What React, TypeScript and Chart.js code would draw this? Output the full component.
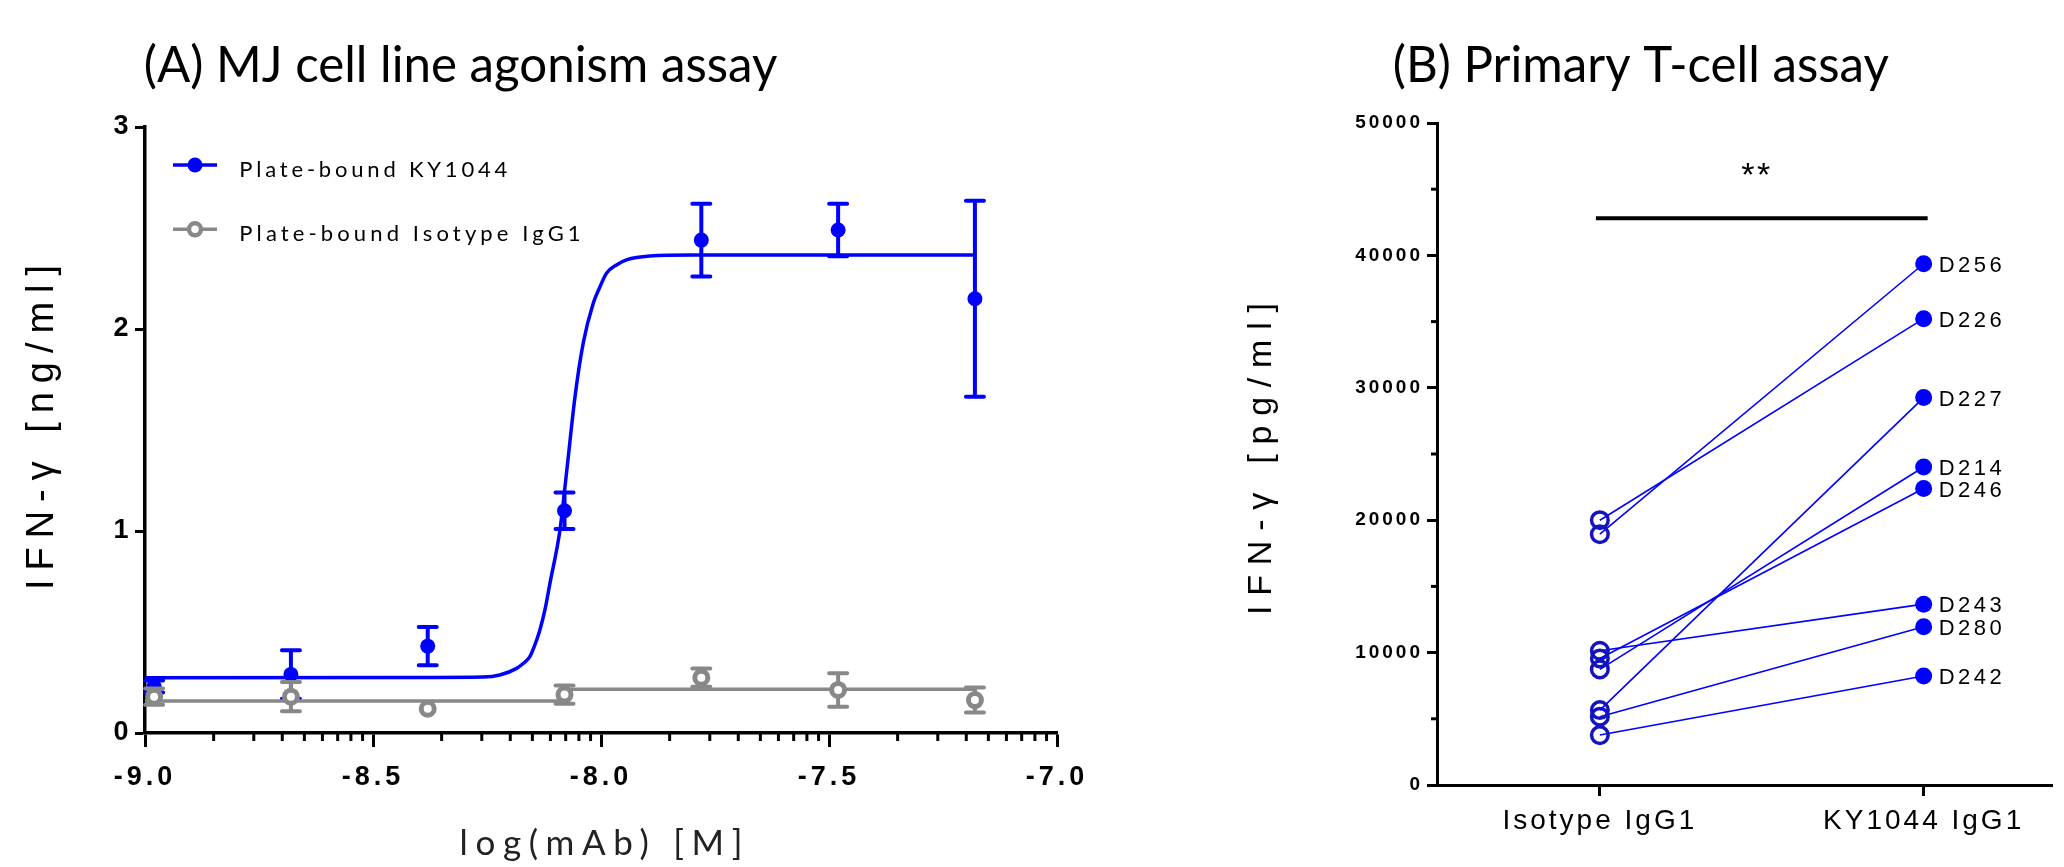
import React, { useEffect, useRef } from 'react';
import { Chart, registerables } from 'chart.js';
Chart.register(...registerables);

// ---------------- Panel A data ----------------
const LOG_CONC = [-8.98, -8.68, -8.38, -8.08, -7.78, -7.48, -7.18];
const KY1044_MEAN = [0.23, 0.29, 0.43, 1.1, 2.44, 2.49, 2.15];
const KY1044_SD = [0.03, 0.12, 0.095, 0.09, 0.18, 0.13, 0.485];
const ISO_MEAN = [0.18, 0.18, 0.12, 0.19, 0.274, 0.213, 0.163];
const ISO_SD = [0.04, 0.072, 0, 0.045, 0.045, 0.083, 0.062];
const KY1044_FIT_X = [-9.0, -8.4, -8.258, -8.222, -8.185, -8.17, -8.156, -8.145, -8.134, -8.123, -8.112, -8.09, -8.075, -8.057, -8.039, -8.017, -8.002, -7.988, -7.966, -7.944, -7.893, -7.8, -7.18];
const KY1044_FIT_Y = [0.274, 0.275, 0.277, 0.287, 0.32, 0.345, 0.378, 0.436, 0.51, 0.609, 0.741, 1.005, 1.3, 1.665, 1.93, 2.127, 2.21, 2.276, 2.317, 2.342, 2.361, 2.366, 2.366];
const ISO_FIT_X = [-9.0, -8.083, -8.083, -7.18];
const ISO_FIT_Y = [0.158, 0.158, 0.216, 0.216];
const X_TICKS_A = [-9.0, -8.5, -8.0, -7.5, -7.0];
const Y_TICKS_A = [0, 1, 2, 3];
const LEGEND_A = ['Plate-bound KY1044', 'Plate-bound Isotype IgG1'];

// ---------------- Panel B data ----------------
const GROUPS_B = ['Isotype IgG1', 'KY1044 IgG1'];
const DONORS = ['D256', 'D226', 'D227', 'D214', 'D246', 'D243', 'D280', 'D242'];
const ISOTYPE_VALUES = [18940, 20000, 5660, 8730, 9560, 10140, 5160, 3770];
const KY1044_VALUES = [39370, 35220, 29260, 24020, 22390, 13660, 11950, 8230];
const Y_TICKS_B = [0, 10000, 20000, 30000, 40000, 50000];
const Y_MINOR_B = [5000, 15000, 25000, 35000, 45000];
const SIG_LABEL = '**';
const SIG_LEVEL = 42800;

const BLUE = '#0000ff';
const DARK_BLUE = '#1414bf';
const GRAY = '#888888';
const SANS = '"Liberation Sans", Arial, sans-serif';
const CAL = 'Lato, "Noto Sans", sans-serif';

function drawFitted(ctx: any, text: string, x: number, y: number, font: string, width: number, o: any = {}) {
  const align = o.align || 'left';
  ctx.save();
  ctx.font = font;
  ctx.letterSpacing = '0px';
  const w0 = ctx.measureText(text).width;
  const n = Array.from(text).length;
  let spacing = n > 1 ? (width - w0) / (n - 1) : 0;
  let sx = 1;
  if (spacing < 0) {
    sx = width / w0;
    spacing = 0;
  }
  ctx.translate(x, y);
  if (o.rotate) ctx.rotate(-Math.PI / 2);
  const startX = align === 'center' ? -width / 2 : 0;
  ctx.scale(sx, 1);
  ctx.letterSpacing = spacing + 'px';
  ctx.textAlign = 'left';
  ctx.textBaseline = o.baseline || 'alphabetic';
  ctx.fillStyle = o.color || '#000';
  ctx.fillText(text, startX / sx, 0);
  ctx.restore();
}

function drawErrorBars(chart: any, ds: any) {
  if (!ds.errors) return;
  const { ctx } = chart;
  const xs = chart.scales.x;
  const ys = chart.scales.y;
  ctx.save();
  ctx.strokeStyle = ds.borderColor;
  ctx.lineWidth = 4;
  ctx.lineCap = 'round';
  ds.data.forEach((p: any, i: number) => {
    const e = ds.errors[i];
    if (!e) return;
    const px = xs.getPixelForValue(p.x);
    const t = ys.getPixelForValue(p.y + e);
    const b = ys.getPixelForValue(p.y - e);
    ctx.beginPath();
    ctx.moveTo(px, t);
    ctx.lineTo(px, b);
    ctx.moveTo(px - 9, t);
    ctx.lineTo(px + 9, t);
    ctx.moveTo(px - 9, b);
    ctx.lineTo(px + 9, b);
    ctx.stroke();
  });
  ctx.restore();
}

const panelAPlugin = {
  id: 'panelA',
  beforeDraw(chart: any) {
    chart.ctx.letterSpacing = '4px';
  },
  beforeDatasetDraw(chart: any, args: any) {
    drawErrorBars(chart, chart.data.datasets[args.index]);
  },
  afterDraw(chart: any) {
    const ctx = chart.ctx;
    ctx.letterSpacing = '0px';
    const xs = chart.scales.x;
    const bottom = chart.chartArea.bottom;
    // minor log-style ticks
    ctx.save();
    ctx.strokeStyle = '#000';
    ctx.lineWidth = 3;
    for (let i = 0; i < X_TICKS_A.length - 1; i++) {
      for (let k = 2; k <= 9; k++) {
        const v = X_TICKS_A[i] + (X_TICKS_A[i + 1] - X_TICKS_A[i]) * Math.log10(k);
        const px = xs.getPixelForValue(v);
        ctx.beginPath();
        ctx.moveTo(px, bottom);
        ctx.lineTo(px, bottom + 8);
        ctx.stroke();
      }
    }
    ctx.restore();
    // titles
    drawFitted(ctx, '(A) MJ cell line agonism assay', 143.8, 81.7, `51px ${CAL}`, 633.5);
    drawFitted(ctx, 'log(mAb) [M]', 601, 855, `35px ${CAL}`, 283, { align: 'center', color: '#222' });
    drawFitted(ctx, 'IFN-γ [ng/ml]', 52.5, 590, `38px ${SANS}`, 325, { rotate: true });
    // legend
    ctx.save();
    ctx.lineWidth = 3.5;
    ctx.strokeStyle = BLUE;
    ctx.beginPath();
    ctx.moveTo(173, 165);
    ctx.lineTo(217, 165);
    ctx.stroke();
    ctx.fillStyle = BLUE;
    ctx.beginPath();
    ctx.arc(195, 165, 7.5, 0, Math.PI * 2);
    ctx.fill();
    ctx.strokeStyle = GRAY;
    ctx.beginPath();
    ctx.moveTo(173, 229.3);
    ctx.lineTo(217, 229.3);
    ctx.stroke();
    ctx.fillStyle = '#fff';
    ctx.lineWidth = 4.5;
    ctx.beginPath();
    ctx.arc(195, 229.3, 6, 0, Math.PI * 2);
    ctx.fill();
    ctx.stroke();
    ctx.restore();
    drawFitted(ctx, LEGEND_A[0], 239.3, 176.7, `22px ${CAL}`, 268);
    drawFitted(ctx, LEGEND_A[1], 239.3, 240.7, `22px ${CAL}`, 341.3);
  },
};

const panelBPlugin = {
  id: 'panelB',
  beforeDraw(chart: any) {
    chart.ctx.letterSpacing = '3px';
  },
  afterDraw(chart: any) {
    const ctx = chart.ctx;
    ctx.letterSpacing = '0px';
    const xs = chart.scales.x;
    const ys = chart.scales.y;
    const left = chart.chartArea.left;
    ctx.save();
    ctx.strokeStyle = '#000';
    ctx.lineWidth = 3;
    Y_MINOR_B.forEach((v) => {
      const py = ys.getPixelForValue(v);
      ctx.beginPath();
      ctx.moveTo(left - 6, py);
      ctx.lineTo(left, py);
      ctx.stroke();
    });
    // significance bar
    ctx.lineWidth = 4;
    const sy = ys.getPixelForValue(SIG_LEVEL);
    ctx.beginPath();
    ctx.moveTo(xs.getPixelForValue(0) - 4, sy);
    ctx.lineTo(xs.getPixelForValue(1) + 4, sy);
    ctx.stroke();
    ctx.restore();
    drawFitted(ctx, SIG_LABEL, xs.getPixelForValue(0.5) - 6, 186, `34px ${SANS}`, 29, { align: 'center' });
    // donor labels
    DONORS.forEach((d, i) => {
      const px = xs.getPixelForValue(1) + 15;
      const py = ys.getPixelForValue(KY1044_VALUES[i]) + 2;
      ctx.save();
      ctx.font = `22px ${SANS}`;
      ctx.letterSpacing = '3.5px';
      ctx.textAlign = 'left';
      ctx.textBaseline = 'middle';
      ctx.fillStyle = '#000';
      ctx.fillText(d, px, py);
      ctx.restore();
    });
    drawFitted(ctx, '(B) Primary T-cell assay', 252.8, 81.7, `51px ${CAL}`, 496);
    drawFitted(ctx, 'IFN-γ [pg/ml]', 131, 615, `34px ${SANS}`, 312, { rotate: true });
  },
};

function configA(): any {
  return {
    type: 'line',
    data: {
      datasets: [
        {
          label: 'KY1044 fit',
          data: KY1044_FIT_X.map((x, i) => ({ x, y: KY1044_FIT_Y[i] })),
          borderColor: BLUE,
          borderWidth: 3.5,
          pointRadius: 0,
          cubicInterpolationMode: 'monotone',
          fill: false,
          order: 4,
          clip: false,
        },
        {
          label: LEGEND_A[0],
          data: LOG_CONC.map((x, i) => ({ x, y: KY1044_MEAN[i] })),
          errors: KY1044_SD,
          showLine: false,
          borderColor: BLUE,
          pointRadius: 7.5,
          pointBackgroundColor: BLUE,
          pointBorderColor: BLUE,
          pointBorderWidth: 0,
          order: 3,
          clip: false,
        },
        {
          label: 'Isotype fit',
          data: ISO_FIT_X.map((x, i) => ({ x, y: ISO_FIT_Y[i] })),
          borderColor: GRAY,
          borderWidth: 3.5,
          pointRadius: 0,
          tension: 0,
          fill: false,
          order: 2,
          clip: false,
        },
        {
          label: LEGEND_A[1],
          data: LOG_CONC.map((x, i) => ({ x, y: ISO_MEAN[i] })),
          errors: ISO_SD,
          showLine: false,
          borderColor: GRAY,
          pointRadius: 6.5,
          pointBackgroundColor: '#ffffff',
          pointBorderColor: GRAY,
          pointBorderWidth: 5,
          order: 1,
          clip: false,
        },
      ],
    },
    options: {
      animation: false,
      responsive: false,
      devicePixelRatio: 1,
      events: [],
      layout: { padding: { left: 0, top: 127, right: 83, bottom: 0 } },
      plugins: { legend: { display: false }, tooltip: { enabled: false }, title: { display: false } },
      scales: {
        x: {
          type: 'linear',
          min: -9,
          max: -7,
          afterBuildTicks: (s: any) => {
            s.ticks = X_TICKS_A.map((v) => ({ value: v }));
          },
          afterFit: (s: any) => {
            s.height = 134;
          },
          grid: { drawOnChartArea: false, drawTicks: true, tickLength: 14, tickWidth: 3, tickColor: '#000' },
          border: { display: true, color: '#000', width: 3.5 },
          ticks: {
            color: '#000',
            font: { family: SANS, size: 27, weight: 'bold' },
            padding: 14,
            maxRotation: 0,
            autoSkip: false,
            callback: (v: any) => Number(v).toFixed(1),
          },
        },
        y: {
          type: 'linear',
          min: 0,
          max: 3,
          afterBuildTicks: (s: any) => {
            s.ticks = Y_TICKS_A.map((v) => ({ value: v }));
          },
          afterFit: (s: any) => {
            s.width = 145;
          },
          grid: { drawOnChartArea: false, drawTicks: true, tickLength: 10, tickWidth: 3, tickColor: '#000' },
          border: { display: true, color: '#000', width: 3.5 },
          ticks: {
            color: '#000',
            font: { family: SANS, size: 27, weight: 'bold' },
            padding: 2.5,
            autoSkip: false,
            callback: (v: any) => String(v),
          },
        },
      },
    },
    plugins: [panelAPlugin],
  };
}

function configB(): any {
  return {
    type: 'line',
    data: {
      datasets: DONORS.map((d, i) => ({
        label: d,
        data: [
          { x: 0, y: ISOTYPE_VALUES[i] },
          { x: 1, y: KY1044_VALUES[i] },
        ],
        showLine: true,
        borderColor: BLUE,
        borderWidth: 1.6,
        tension: 0,
        fill: false,
        pointStyle: 'circle',
        pointRadius: [8.3, 8.5],
        pointBackgroundColor: ['rgba(0,0,0,0)', BLUE],
        pointBorderColor: [DARK_BLUE, BLUE],
        pointBorderWidth: [3.5, 0],
        clip: false,
      })),
    },
    options: {
      animation: false,
      responsive: false,
      devicePixelRatio: 1,
      events: [],
      layout: { padding: { left: 0, top: 123, right: 0, bottom: 0 } },
      plugins: { legend: { display: false }, tooltip: { enabled: false }, title: { display: false } },
      scales: {
        x: {
          type: 'linear',
          min: -0.503,
          max: 1.397,
          afterBuildTicks: (s: any) => {
            s.ticks = GROUPS_B.map((_, i) => ({ value: i }));
          },
          afterFit: (s: any) => {
            s.height = 82;
          },
          grid: { drawOnChartArea: false, drawTicks: true, tickLength: 11, tickWidth: 3, tickColor: '#000' },
          border: { display: true, color: '#000', width: 3 },
          ticks: {
            color: '#000',
            font: { family: SANS, size: 28 },
            padding: 8,
            maxRotation: 0,
            autoSkip: false,
            callback: (v: any) => GROUPS_B[Math.round(Number(v))] ?? '',
          },
        },
        y: {
          type: 'linear',
          min: 0,
          max: 50000,
          afterBuildTicks: (s: any) => {
            s.ticks = Y_TICKS_B.map((v) => ({ value: v }));
          },
          afterFit: (s: any) => {
            s.width = 297;
          },
          grid: { drawOnChartArea: false, drawTicks: true, tickLength: 10, tickWidth: 3, tickColor: '#000' },
          border: { display: true, color: '#000', width: 3 },
          ticks: {
            color: '#000',
            font: { family: SANS, size: 19, weight: 'bold' },
            padding: 4,
            autoSkip: false,
            callback: (v: any) => String(v),
          },
        },
      },
    },
    plugins: [panelBPlugin],
  };
}

export default function App() {
  const refA = useRef<HTMLCanvasElement>(null);
  const refB = useRef<HTMLCanvasElement>(null);
  useEffect(() => {
    const a = new Chart(refA.current as HTMLCanvasElement, configA());
    const b = new Chart(refB.current as HTMLCanvasElement, configB());
    return () => {
      a.destroy();
      b.destroy();
    };
  }, []);
  return (
    <div style={{ position: 'absolute', left: 0, top: 0, width: 2064, height: 867, background: '#ffffff', overflow: 'hidden' }}>
      <canvas ref={refA} width={1140} height={867} style={{ position: 'absolute', left: 0, top: 0, width: 1140, height: 867 }} />
      <canvas ref={refB} width={924} height={867} style={{ position: 'absolute', left: 1140, top: 0, width: 924, height: 867 }} />
    </div>
  );
}
